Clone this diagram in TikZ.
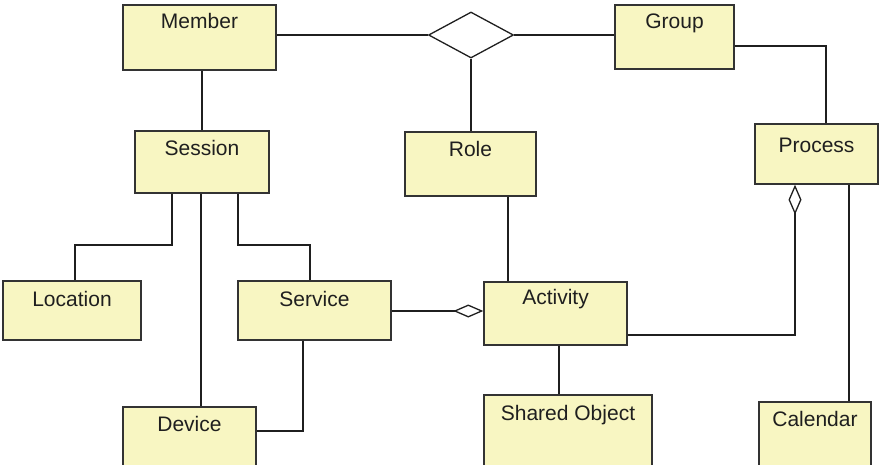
\documentclass[tikz,border=0pt]{standalone}
\usepackage{fontspec}
\setmainfont{Liberation Sans}
\usepackage{xcolor}
\usetikzlibrary{
    arrows.meta,
    shapes.geometric,
    positioning
}
\definecolor{boxfill}{RGB}{248,246,194}
\definecolor{boxline}{RGB}{51,51,51}
\tikzset{cbox/.style={rectangle, inner sep=0pt, draw=boxline, line width=1.4pt, fill=boxfill}}
\tikzset{cname/.style={anchor=base, inner sep=0pt, text=black!88, font=\fontsize{21}{25}\selectfont}}
\tikzset{conn/.style={draw=black!88, line width=1.3pt}}
\tikzset{agg/.style={conn, -{Diamond[open, length=30pt, width=13pt, line width=1.3pt]}}}

\begin{document}
\begin{tikzpicture}[x=1pt, y=-1pt]
                        \useasboundingbox (0, 0) rectangle (879, 464);

                        \node[cbox, minimum width=153pt, minimum height=65pt] (member) at (199.5, 37.5) {};
                        \node[cbox, minimum width=119pt, minimum height=64pt] (group) at (674.5, 37) {};
                        \node[cbox, minimum width=134pt, minimum height=62pt] (session) at (202, 162) {};
                        \node[cbox, minimum width=131pt, minimum height=64pt] (role) at (470.5, 164) {};
                        \node[cbox, minimum width=123pt, minimum height=60pt] (process) at (816.5, 154) {};
                        \node[cbox, minimum width=138pt, minimum height=59pt] (location) at (72, 310.5) {};
                        \node[cbox, minimum width=153pt, minimum height=59pt] (service) at (314.5, 310.5) {};
                        \node[cbox, minimum width=143pt, minimum height=63pt] (activity) at (555.5, 313.5) {};
                        \node[cbox, minimum width=133pt, minimum height=68pt] (device) at (189.5, 441) {};
                        \node[cbox, minimum width=168pt, minimum height=80pt] (sharedobj) at (568, 435) {};
                        \node[cbox, minimum width=112pt, minimum height=73pt] (calendar) at (815, 438.5) {};

                        \node[cname] (member-name) at (199.5, 28) {Member};
                        \node[cname] (group-name) at (674.5, 28) {Group};
                        \node[cname] (session-name) at (202, 155) {Session};
                        \node[cname] (role-name) at (470.5, 156) {Role};
                        \node[cname] (process-name) at (816.5, 152) {Process};
                        \node[cname] (location-name) at (72, 306) {Location};
                        \node[cname] (service-name) at (314.5, 306) {Service};
                        \node[cname] (activity-name) at (555.5, 304) {Activity};
                        \node[cname] (device-name) at (189.5, 431) {Device};
                        \node[cname] (sharedobj-name) at (568, 420) {Shared Object};
                        \node[cname] (calendar-name) at (815, 426) {Calendar};

                        \node[diamond, draw=black!88, line width=1.3pt, fill=white, inner sep=0pt,
                            minimum width=85pt, minimum height=46pt] (assoc) at (471, 35) {};

                        \draw[conn] (assoc.west) -- (assoc.west -| member.east);
                        \draw[conn] (assoc.east) -- (assoc.east -| group.west);
                        \draw[conn] (assoc.south) -- (assoc.south |- role.north);
                        \draw[conn] (group.east |- 0, 46) -| (process.north -| 826, 0);

                        \draw[conn] (member.south -| 202, 0) -- (session.north -| 202, 0);
                        \draw[conn] (session.south -| 172, 0) |- (75, 245) -- (location.north -| 75, 0);
                        \draw[conn] (session.south -| 201, 0) -- (device.north -| 201, 0);
                        \draw[conn] (session.south -| 238, 0) |- (310, 245) -- (service.north -| 310, 0);
                        \draw[conn] (service.south -| 303, 0) |- (device.east |- 0, 431);

                        \draw[agg] (service.east |- 0, 311) -- (activity.west |- 0, 311);
                        \draw[conn] (role.south -| 508, 0) -- (activity.north -| 508, 0);
                        \draw[agg] (activity.east |- 0, 335) -| (process.south -| 795, 0);
                        \draw[conn] (activity.south -| 559, 0) -- (sharedobj.north -| 559, 0);
                        \draw[conn] (process.south -| 849, 0) -- (calendar.north -| 849, 0);
                    \end{tikzpicture}
\end{document}
